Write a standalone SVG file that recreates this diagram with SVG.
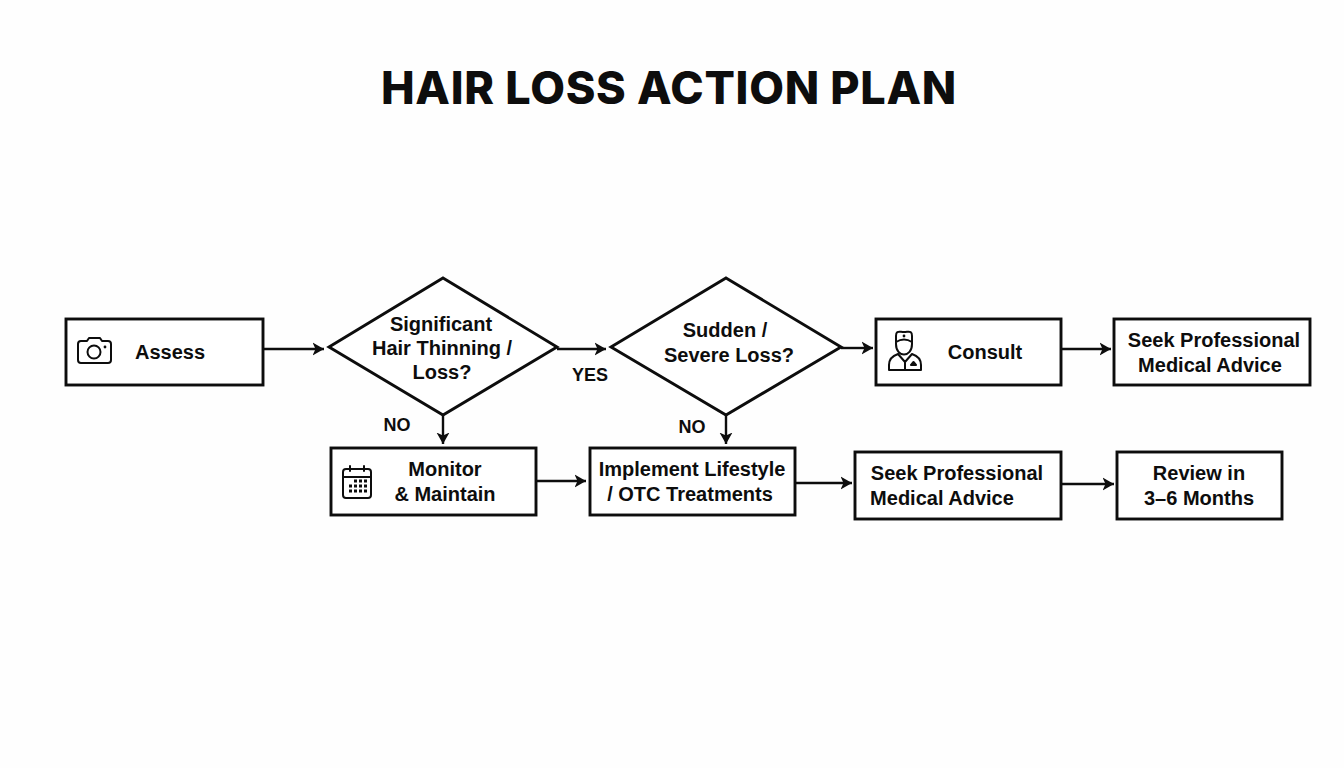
<svg xmlns="http://www.w3.org/2000/svg" width="1344" height="768" viewBox="0 0 1344 768">
<style>
.s{fill:#fff;stroke:#0d0d0d;stroke-width:2.9}
.l{fill:none;stroke:#0d0d0d;stroke-width:2.4}
.i{fill:none;stroke:#0d0d0d;stroke-width:2;stroke-linejoin:round;stroke-linecap:round}
text{font-family:"Liberation Sans",Arial,sans-serif;font-size:20px;font-weight:700;fill:#0d0d0d;text-anchor:middle}
.t{font-family:"Inter","Liberation Sans",sans-serif;font-size:45px;font-weight:800;letter-spacing:.7px}
.e{font-size:18px}
</style>
<defs><marker id="a" markerUnits="userSpaceOnUse" markerWidth="13" markerHeight="16" refX="11.5" refY="8" orient="auto"><path d="M0 1.5 L11.5 8 L0 14.5 L3 8Z" fill="#0d0d0d"/></marker></defs>
<rect width="1344" height="768" fill="#fefefe"/>
<text class="t" x="669" y="104">HAIR LOSS ACTION PLAN</text>
<g id="connectors">
<path class="l" marker-end="url(#a)" d="M263 349H324"/>
<path class="l" marker-end="url(#a)" d="M557 349H606"/>
<path class="l" marker-end="url(#a)" d="M841 348H873"/>
<path class="l" marker-end="url(#a)" d="M1062 349H1111"/>
<path class="l" marker-end="url(#a)" d="M443 415V444"/>
<path class="l" marker-end="url(#a)" d="M726 415V444"/>
<path class="l" marker-end="url(#a)" d="M537 481H586"/>
<path class="l" marker-end="url(#a)" d="M796 483H852"/>
<path class="l" marker-end="url(#a)" d="M1062 484H1114"/>
</g>
<text class="e" x="590" y="381">YES</text>
<text class="e" x="397" y="431">NO</text>
<text class="e" x="692" y="433">NO</text>
<g id="assess"><rect class="s" x="66" y="319" width="197" height="66"/>
<path class="i" d="M78 344a3 3 0 0 1 3-3h6l2-3h11l2 3h6a3 3 0 0 1 3 3v16a3 3 0 0 1-3 3H81a3 3 0 0 1-3-3Z"/><circle class="i" cx="94" cy="352" r="6.5"/><circle cx="105" cy="347" r="1.4" fill="#0d0d0d"/>
<text x="170" y="359">Assess</text></g>
<g id="d1"><path class="s" d="M443 278L557 347L443 415L329 347Z"/>
<text x="441" y="331">Significant</text><text x="442" y="355">Hair Thinning /</text><text x="442" y="379">Loss?</text></g>
<g id="d2"><path class="s" d="M726 278L841 347L726 415L611 347Z"/>
<text x="725" y="337">Sudden /</text><text x="729" y="362">Severe Loss?</text></g>
<g id="consult"><rect class="s" x="876" y="319" width="185" height="66"/>
<path class="i" d="M896 344v-8c0-6 3-4 8-4s8-2 8 4v8M896 342c5-3 11-3 16 0M896 344c0 14 16 14 16 0M898 354c-6 2-9 6-9 11v5h32v-5c0-5-3-9-9-11l-7 8ZM905 362v7"/><circle cx="904" cy="336" r="1.4" fill="#0d0d0d"/><path class="i" d="M911 365l2.500-3 2.500 3Z"/>
<text x="985" y="359">Consult</text></g>
<g id="advice1"><rect class="s" x="1114" y="319" width="196" height="66"/>
<text x="1214" y="347">Seek Professional</text><text x="1210" y="372">Medical Advice</text></g>
<g id="monitor"><rect class="s" x="331" y="448" width="205" height="67"/>
<rect class="i" x="343" y="469" width="28" height="29" rx="3"/><path class="i" d="M343 477h28M350 466v5M364 466v5"/>
<path d="M354 481h3M359 481h3M364 481h3M349 486h3M354 486h3M359 486h3M364 486h3M349 491h3M354 491h3M359 491h3M364 491h3" stroke="#0d0d0d" stroke-width="3"/>
<text x="445" y="476">Monitor</text><text x="445" y="501">&amp; Maintain</text></g>
<g id="implement"><rect class="s" x="590" y="448" width="205" height="67"/>
<text x="692" y="476">Implement Lifestyle</text><text x="690" y="501">/ OTC Treatments</text></g>
<g id="advice2"><rect class="s" x="855" y="452" width="206" height="67"/>
<text x="957" y="480">Seek Professional</text><text x="942" y="505">Medical Advice</text></g>
<g id="review"><rect class="s" x="1117" y="452" width="165" height="67"/>
<text x="1199" y="480">Review in</text><text x="1199" y="505">3–6 Months</text></g>
</svg>
